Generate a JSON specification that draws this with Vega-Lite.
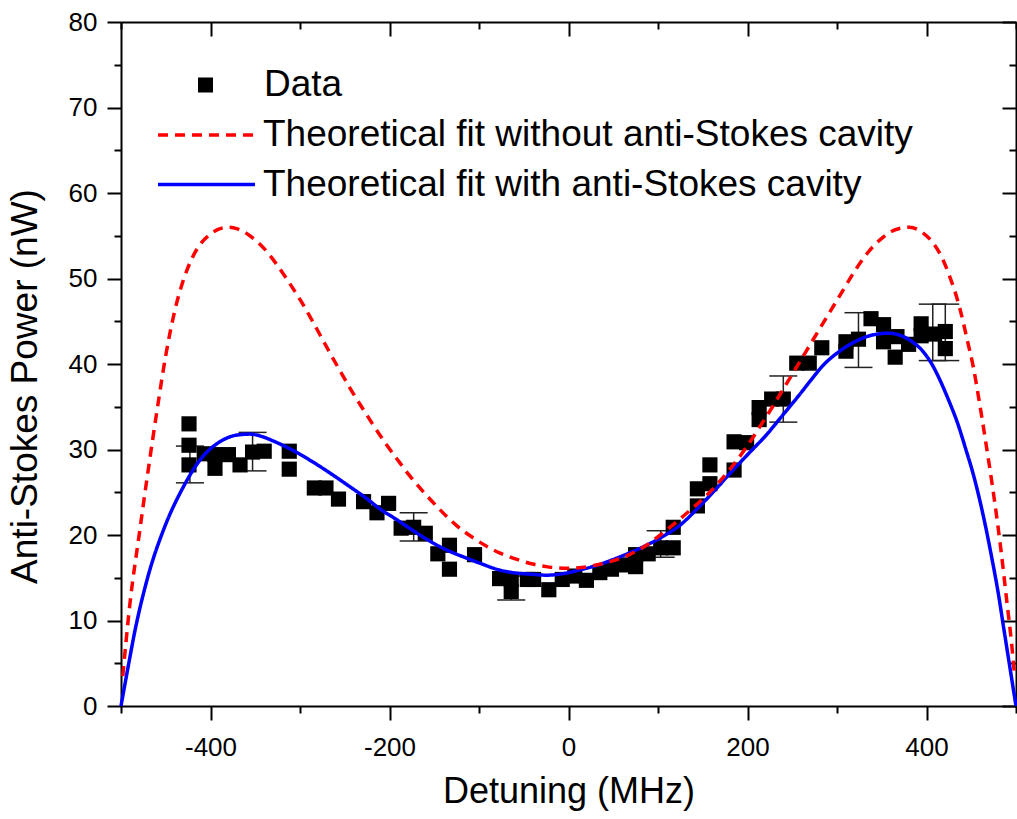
{
  "$schema": "https://vega.github.io/schema/vega-lite/v6.json",
  "width": 895,
  "height": 684,
  "autosize": {"type": "none"},
  "padding": {"left": 121, "top": 22, "right": 1, "bottom": 113},
  "background": "white",
  "config": {
    "font": "Liberation Sans",
    "view": {"stroke": null},
    "axis": {
      "grid": false,
      "domainColor": "black",
      "domainWidth": 2,
      "tickColor": "black",
      "tickWidth": 2,
      "labelColor": "black",
      "titleColor": "black",
      "labelFont": "Liberation Sans",
      "titleFont": "Liberation Sans",
      "titleFontWeight": "normal",
      "labelOverlap": false,
      "labelFlush": false
    },
    "legend": {
      "labelFont": "Liberation Sans",
      "labelFontSize": 37,
      "labelColor": "black",
      "labelLimit": 1000,
      "padding": 0
    }
  },
  "datasets": {
    "points": [
      {"x": -424, "y": 33.0}, {"x": -424, "y": 30.5}, {"x": -424, "y": 28.2},
      {"x": -407, "y": 29.5}, {"x": -395, "y": 29.4}, {"x": -395, "y": 27.8},
      {"x": -380, "y": 29.4}, {"x": -367, "y": 28.2}, {"x": -353, "y": 29.7},
      {"x": -340, "y": 29.8}, {"x": -312, "y": 29.8}, {"x": -312, "y": 27.7},
      {"x": -284, "y": 25.5}, {"x": -271, "y": 25.5}, {"x": -257, "y": 24.2},
      {"x": -229, "y": 23.9}, {"x": -214, "y": 22.6}, {"x": -201, "y": 23.7},
      {"x": -187, "y": 20.8}, {"x": -173, "y": 20.9}, {"x": -160, "y": 20.2},
      {"x": -146, "y": 17.8}, {"x": -133, "y": 18.8}, {"x": -133, "y": 16.0},
      {"x": -105, "y": 17.7}, {"x": -77, "y": 14.9}, {"x": -64, "y": 14.8},
      {"x": -64, "y": 13.4}, {"x": -46, "y": 14.8}, {"x": -39, "y": 14.8},
      {"x": -22, "y": 13.6}, {"x": -7, "y": 14.8}, {"x": 7, "y": 15.2},
      {"x": 20, "y": 14.7}, {"x": 35, "y": 15.6}, {"x": 48, "y": 16.0},
      {"x": 60, "y": 16.5}, {"x": 75, "y": 17.7}, {"x": 75, "y": 16.3},
      {"x": 89, "y": 17.8}, {"x": 103, "y": 18.5}, {"x": 117, "y": 20.9},
      {"x": 117, "y": 18.5}, {"x": 144, "y": 25.4}, {"x": 144, "y": 23.4},
      {"x": 158, "y": 26.0}, {"x": 158, "y": 28.2}, {"x": 185, "y": 30.9},
      {"x": 185, "y": 27.6}, {"x": 199, "y": 30.8}, {"x": 213, "y": 34.9},
      {"x": 213, "y": 33.5}, {"x": 227, "y": 35.9}, {"x": 240, "y": 35.9},
      {"x": 255, "y": 40.1}, {"x": 269, "y": 40.1}, {"x": 283, "y": 41.9},
      {"x": 310, "y": 42.6}, {"x": 310, "y": 41.5}, {"x": 324, "y": 42.9},
      {"x": 338, "y": 45.3}, {"x": 352, "y": 44.6}, {"x": 352, "y": 42.6},
      {"x": 365, "y": 40.8}, {"x": 367, "y": 43.2}, {"x": 380, "y": 42.3},
      {"x": 394, "y": 44.7}, {"x": 394, "y": 43.3}, {"x": 409, "y": 43.5},
      {"x": 421, "y": 43.8}, {"x": 421, "y": 41.8}
    ],
    "errors": [
      {"x": -423, "lo": 26.1, "hi": 30.4},
      {"x": -353, "lo": 27.5, "hi": 32.0},
      {"x": -173, "lo": 19.3, "hi": 22.6},
      {"x": -64, "lo": 12.4, "hi": 15.2},
      {"x": 103, "lo": 17.4, "hi": 20.5},
      {"x": 240, "lo": 33.2, "hi": 38.6},
      {"x": 324, "lo": 39.6, "hi": 46.0},
      {"x": 407, "lo": 40.4, "hi": 47.0},
      {"x": 421, "lo": 40.4, "hi": 47.0}
    ],
    "red": [
      {"x": -498, "y": 3.5}, {"x": -490, "y": 12.0}, {"x": -480, "y": 19.8},
      {"x": -470, "y": 27.3}, {"x": -460, "y": 34.4}, {"x": -450, "y": 41.0},
      {"x": -440, "y": 46.2}, {"x": -430, "y": 49.9}, {"x": -420, "y": 52.5},
      {"x": -410, "y": 54.2}, {"x": -400, "y": 55.2}, {"x": -390, "y": 55.8},
      {"x": -380, "y": 56.0}, {"x": -370, "y": 55.8}, {"x": -356, "y": 55.0},
      {"x": -340, "y": 53.5}, {"x": -325, "y": 51.5}, {"x": -312, "y": 49.5},
      {"x": -298, "y": 47.2}, {"x": -287, "y": 45.2}, {"x": -276, "y": 43.1},
      {"x": -265, "y": 41.0}, {"x": -253, "y": 38.8}, {"x": -242, "y": 36.8},
      {"x": -230, "y": 34.8}, {"x": -219, "y": 33.0}, {"x": -205, "y": 30.8},
      {"x": -191, "y": 28.8}, {"x": -178, "y": 27.0}, {"x": -160, "y": 24.8},
      {"x": -144, "y": 23.0}, {"x": -125, "y": 21.1}, {"x": -107, "y": 19.7},
      {"x": -90, "y": 18.6}, {"x": -77, "y": 17.9}, {"x": -62, "y": 17.3},
      {"x": -40, "y": 16.6}, {"x": -25, "y": 16.3}, {"x": -2, "y": 16.1},
      {"x": 15, "y": 16.2}, {"x": 31, "y": 16.5}, {"x": 50, "y": 17.0},
      {"x": 68, "y": 17.7}, {"x": 87, "y": 18.8}, {"x": 105, "y": 20.2},
      {"x": 127, "y": 22.1}, {"x": 138, "y": 23.1}, {"x": 150, "y": 24.2},
      {"x": 165, "y": 25.8}, {"x": 182, "y": 27.9}, {"x": 199, "y": 30.3},
      {"x": 214, "y": 32.7}, {"x": 228, "y": 35.0}, {"x": 239, "y": 36.9},
      {"x": 250, "y": 38.8}, {"x": 265, "y": 41.4}, {"x": 280, "y": 44.0},
      {"x": 295, "y": 46.6}, {"x": 306, "y": 48.5}, {"x": 320, "y": 50.9},
      {"x": 335, "y": 53.1}, {"x": 350, "y": 54.7}, {"x": 365, "y": 55.7},
      {"x": 381, "y": 56.0}, {"x": 395, "y": 55.4}, {"x": 407, "y": 54.2},
      {"x": 417, "y": 52.5}, {"x": 425, "y": 50.5}, {"x": 437, "y": 46.6},
      {"x": 446, "y": 42.6}, {"x": 452, "y": 39.8}, {"x": 459, "y": 35.6},
      {"x": 466, "y": 31.0}, {"x": 476, "y": 24.0}, {"x": 483, "y": 18.4},
      {"x": 490, "y": 12.0}, {"x": 495, "y": 7.4}, {"x": 498, "y": 4.0}
    ],
    "blue": [
      {"x": -500, "y": 0}, {"x": -492, "y": 4.6}, {"x": -485, "y": 8.5},
      {"x": -470, "y": 15.1}, {"x": -451, "y": 21.0}, {"x": -432, "y": 25.3},
      {"x": -410, "y": 29.0}, {"x": -388, "y": 31.0}, {"x": -370, "y": 31.7},
      {"x": -356, "y": 31.8}, {"x": -345, "y": 31.6}, {"x": -330, "y": 31.0},
      {"x": -308, "y": 29.9}, {"x": -285, "y": 28.5}, {"x": -263, "y": 27.0},
      {"x": -245, "y": 25.7}, {"x": -226, "y": 24.3}, {"x": -210, "y": 23.0},
      {"x": -192, "y": 21.8}, {"x": -172, "y": 20.4}, {"x": -152, "y": 19.1},
      {"x": -133, "y": 18.1}, {"x": -114, "y": 17.3}, {"x": -99, "y": 16.7},
      {"x": -77, "y": 15.9}, {"x": -62, "y": 15.6}, {"x": -40, "y": 15.4},
      {"x": -25, "y": 15.3}, {"x": -5, "y": 15.5}, {"x": 12, "y": 15.9},
      {"x": 30, "y": 16.4}, {"x": 49, "y": 17.1}, {"x": 68, "y": 17.9},
      {"x": 87, "y": 18.8}, {"x": 105, "y": 19.8}, {"x": 124, "y": 21.1},
      {"x": 146, "y": 23.3}, {"x": 165, "y": 25.4}, {"x": 183, "y": 27.5},
      {"x": 201, "y": 29.5}, {"x": 221, "y": 31.7}, {"x": 240, "y": 34.1},
      {"x": 258, "y": 36.4}, {"x": 270, "y": 38.0}, {"x": 285, "y": 39.9},
      {"x": 303, "y": 41.5}, {"x": 320, "y": 42.6}, {"x": 340, "y": 43.4},
      {"x": 358, "y": 43.6}, {"x": 372, "y": 43.3}, {"x": 384, "y": 42.6},
      {"x": 395, "y": 41.6}, {"x": 407, "y": 39.8}, {"x": 416, "y": 37.9},
      {"x": 425, "y": 35.7}, {"x": 435, "y": 33.0}, {"x": 444, "y": 30.0},
      {"x": 452, "y": 27.2}, {"x": 459, "y": 24.3}, {"x": 466, "y": 21.0},
      {"x": 473, "y": 17.3}, {"x": 480, "y": 13.3}, {"x": 486, "y": 9.3},
      {"x": 492, "y": 5.3}, {"x": 500, "y": 0}
    ]
  },
  "resolve": {"axis": {"x": "independent", "y": "independent"}},
  "layer": [
    {
      "data": {"name": "errors"},
      "mark": {"type": "rule", "color": "#222222", "strokeWidth": 1.5},
      "encoding": {
        "x": {
          "field": "x", "type": "quantitative",
          "scale": {"domain": [-500, 500], "nice": false, "zero": false},
          "axis": {
            "orient": "bottom",
            "values": [-500, -400, -300, -200, -100, 0, 100, 200, 300, 400, 500],
            "tickSize": {"condition": {"test": "datum.value % 200 === 0", "value": 14}, "value": 7},
            "labelExpr": "(datum.value % 200 === 0 && abs(datum.value) < 500) ? (datum.value < 0 ? '-' + abs(datum.value) : '' + datum.value) : ''",
            "labelFontSize": 26,
            "labelPadding": 14,
            "title": "Detuning (MHz)",
            "titleFontSize": 36,
            "titlePadding": 14
          }
        },
        "y": {
          "field": "lo", "type": "quantitative",
          "scale": {"domain": [0, 80], "nice": false, "zero": false},
          "axis": {
            "orient": "left",
            "values": [0, 5, 10, 15, 20, 25, 30, 35, 40, 45, 50, 55, 60, 65, 70, 75, 80],
            "tickSize": {"condition": {"test": "datum.value % 10 === 0", "value": 14}, "value": 7},
            "labelExpr": "datum.value % 10 === 0 ? '' + datum.value : ''",
            "labelFontSize": 26,
            "labelPadding": 10,
            "title": "Anti-Stokes Power (nW)",
            "titleFontSize": 37,
            "titlePadding": 24,
            "titleY": 364
          }
        },
        "y2": {"field": "hi"}
      }
    },
    {
      "data": {"name": "errors"},
      "mark": {"type": "tick", "orient": "horizontal", "color": "#222222", "thickness": 1.5, "size": 28, "opacity": 1},
      "encoding": {
        "x": {
          "field": "x", "type": "quantitative",
          "axis": {
            "orient": "top",
            "values": [-500, -400, -300, -200, -100, 0, 100, 200, 300, 400, 500],
            "tickSize": {"condition": {"test": "datum.value % 200 === 0", "value": -14}, "value": -7},
            "labels": false,
            "title": null
          }
        },
        "y": {
          "field": "lo", "type": "quantitative",
          "axis": {
            "orient": "right",
            "values": [0, 5, 10, 15, 20, 25, 30, 35, 40, 45, 50, 55, 60, 65, 70, 75, 80],
            "tickSize": {"condition": {"test": "datum.value % 10 === 0", "value": -14}, "value": -7},
            "labels": false,
            "title": null
          }
        }
      }
    },
    {
      "data": {"name": "errors"},
      "mark": {"type": "tick", "orient": "horizontal", "color": "#222222", "thickness": 1.5, "size": 28, "opacity": 1},
      "encoding": {
        "x": {"field": "x", "type": "quantitative", "axis": null},
        "y": {"field": "hi", "type": "quantitative", "axis": null}
      }
    },
    {
      "data": {"name": "points"},
      "mark": {"type": "point", "shape": "square", "filled": true, "size": 230, "opacity": 1, "color": "#000000"},
      "encoding": {
        "x": {"field": "x", "type": "quantitative", "axis": null},
        "y": {"field": "y", "type": "quantitative", "axis": null},
        "shape": {
          "datum": "Data", "type": "nominal",
          "scale": {"domain": ["Data"], "range": ["square"]},
          "legend": {
            "title": null,
            "orient": "none",
            "legendX": 66,
            "legendY": 43,
            "symbolSize": 225,
            "clipHeight": 40,
            "labelOffset": 40,
            "symbolFillColor": "#000000",
            "symbolStrokeWidth": 0,
            "symbolOpacity": 1
          }
        }
      }
    },
    {
      "data": {"name": "blue"},
      "mark": {"type": "line", "strokeWidth": 3.5, "interpolate": "monotone"},
      "encoding": {
        "x": {"field": "x", "type": "quantitative", "axis": null},
        "y": {"field": "y", "type": "quantitative", "axis": null},
        "color": {
          "datum": "Theoretical fit with anti-Stokes cavity", "type": "nominal",
          "scale": {
            "domain": ["Theoretical fit without anti-Stokes cavity", "Theoretical fit with anti-Stokes cavity"],
            "range": ["#ff0000", "#0000ff"]
          },
          "legend": {
            "title": null,
            "orient": "none",
            "legendX": 35,
            "legendY": 93,
            "symbolSize": 9400,
            "clipHeight": 40,
            "rowPadding": 9.5,
            "labelOffset": 6,
            "symbolStrokeWidth": 3.5,
            "symbolType": "stroke",
            "symbolOpacity": 1
          }
        },
        "strokeDash": {
          "datum": "Theoretical fit with anti-Stokes cavity", "type": "nominal",
          "scale": {
            "domain": ["Theoretical fit without anti-Stokes cavity", "Theoretical fit with anti-Stokes cavity"],
            "range": [[10, 7], [1, 0]]
          },
          "legend": {
            "title": null,
            "orient": "none",
            "legendX": 35,
            "legendY": 93,
            "symbolSize": 9400,
            "clipHeight": 40,
            "rowPadding": 9.5,
            "labelOffset": 6,
            "symbolStrokeWidth": 3.5,
            "symbolType": "stroke",
            "symbolOpacity": 1
          }
        }
      }
    },
    {
      "data": {"name": "red"},
      "mark": {"type": "line", "strokeWidth": 3.5, "interpolate": "monotone"},
      "encoding": {
        "x": {"field": "x", "type": "quantitative", "axis": null},
        "y": {"field": "y", "type": "quantitative", "axis": null},
        "color": {"datum": "Theoretical fit without anti-Stokes cavity", "type": "nominal"},
        "strokeDash": {"datum": "Theoretical fit without anti-Stokes cavity", "type": "nominal"}
      }
    }
  ]
}
